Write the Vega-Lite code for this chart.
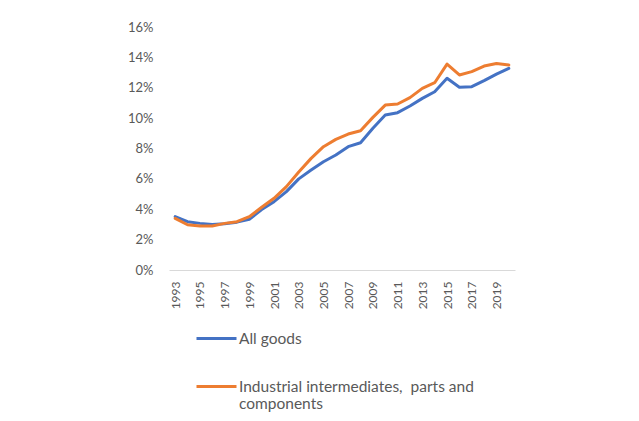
{
  "$schema": "https://vega.github.io/schema/vega-lite/v6.json",
  "autosize": {"type": "none"},
  "width": 346,
  "height": 243,
  "padding": {"left": 169, "top": 27, "right": 124, "bottom": 151},
  "background": "white",
  "config": {
    "view": {"stroke": null},
    "font": "Lato",
    "axis": {"labelFont": "Lato", "labelColor": "#595959", "grid": false, "ticks": false}
  },
  "data": {
    "values": [
      {"year": 1993, "series": "All goods", "value": 0.0352},
      {"year": 1994, "series": "All goods", "value": 0.0318},
      {"year": 1995, "series": "All goods", "value": 0.0307},
      {"year": 1996, "series": "All goods", "value": 0.0300},
      {"year": 1997, "series": "All goods", "value": 0.0305},
      {"year": 1998, "series": "All goods", "value": 0.0315},
      {"year": 1999, "series": "All goods", "value": 0.0334},
      {"year": 2000, "series": "All goods", "value": 0.0398},
      {"year": 2001, "series": "All goods", "value": 0.0450},
      {"year": 2002, "series": "All goods", "value": 0.0516},
      {"year": 2003, "series": "All goods", "value": 0.0600},
      {"year": 2004, "series": "All goods", "value": 0.0658},
      {"year": 2005, "series": "All goods", "value": 0.0713},
      {"year": 2006, "series": "All goods", "value": 0.0757},
      {"year": 2007, "series": "All goods", "value": 0.0812},
      {"year": 2008, "series": "All goods", "value": 0.0838},
      {"year": 2009, "series": "All goods", "value": 0.0933},
      {"year": 2010, "series": "All goods", "value": 0.1020},
      {"year": 2011, "series": "All goods", "value": 0.1036},
      {"year": 2012, "series": "All goods", "value": 0.1080},
      {"year": 2013, "series": "All goods", "value": 0.1130},
      {"year": 2014, "series": "All goods", "value": 0.1174},
      {"year": 2015, "series": "All goods", "value": 0.1262},
      {"year": 2016, "series": "All goods", "value": 0.1203},
      {"year": 2017, "series": "All goods", "value": 0.1207},
      {"year": 2018, "series": "All goods", "value": 0.1247},
      {"year": 2019, "series": "All goods", "value": 0.1290},
      {"year": 2020, "series": "All goods", "value": 0.1328},
      {"year": 1993, "series": "Industrial intermediates,  parts and components", "value": 0.0340},
      {"year": 1994, "series": "Industrial intermediates,  parts and components", "value": 0.0298},
      {"year": 1995, "series": "Industrial intermediates,  parts and components", "value": 0.0290},
      {"year": 1996, "series": "Industrial intermediates,  parts and components", "value": 0.0290},
      {"year": 1997, "series": "Industrial intermediates,  parts and components", "value": 0.0307},
      {"year": 1998, "series": "Industrial intermediates,  parts and components", "value": 0.0318},
      {"year": 1999, "series": "Industrial intermediates,  parts and components", "value": 0.0351},
      {"year": 2000, "series": "Industrial intermediates,  parts and components", "value": 0.0413},
      {"year": 2001, "series": "Industrial intermediates,  parts and components", "value": 0.0472},
      {"year": 2002, "series": "Industrial intermediates,  parts and components", "value": 0.0549},
      {"year": 2003, "series": "Industrial intermediates,  parts and components", "value": 0.0645},
      {"year": 2004, "series": "Industrial intermediates,  parts and components", "value": 0.0735},
      {"year": 2005, "series": "Industrial intermediates,  parts and components", "value": 0.0812},
      {"year": 2006, "series": "Industrial intermediates,  parts and components", "value": 0.0860},
      {"year": 2007, "series": "Industrial intermediates,  parts and components", "value": 0.0895},
      {"year": 2008, "series": "Industrial intermediates,  parts and components", "value": 0.0917},
      {"year": 2009, "series": "Industrial intermediates,  parts and components", "value": 0.1005},
      {"year": 2010, "series": "Industrial intermediates,  parts and components", "value": 0.1086},
      {"year": 2011, "series": "Industrial intermediates,  parts and components", "value": 0.1093},
      {"year": 2012, "series": "Industrial intermediates,  parts and components", "value": 0.1135},
      {"year": 2013, "series": "Industrial intermediates,  parts and components", "value": 0.1196},
      {"year": 2014, "series": "Industrial intermediates,  parts and components", "value": 0.1233},
      {"year": 2015, "series": "Industrial intermediates,  parts and components", "value": 0.1356},
      {"year": 2016, "series": "Industrial intermediates,  parts and components", "value": 0.1284},
      {"year": 2017, "series": "Industrial intermediates,  parts and components", "value": 0.1306},
      {"year": 2018, "series": "Industrial intermediates,  parts and components", "value": 0.1343},
      {"year": 2019, "series": "Industrial intermediates,  parts and components", "value": 0.1360},
      {"year": 2020, "series": "Industrial intermediates,  parts and components", "value": 0.1350}
    ]
  },
  "mark": {"type": "line", "strokeWidth": 3, "strokeJoin": "round", "strokeCap": "round"},
  "encoding": {
    "x": {
      "field": "year",
      "type": "ordinal",
      "scale": {"type": "point", "padding": 0.5},
      "axis": {
        "title": null,
        "values": [1993, 1995, 1997, 1999, 2001, 2003, 2005, 2007, 2009, 2011, 2013, 2015, 2017, 2019],
        "labelAngle": -90,
        "labelAlign": "right",
        "labelBaseline": "middle",
        "labelPadding": 11,
        "labelFontSize": 12,
        "domainColor": "#d9d9d9",
        "domainWidth": 1
      }
    },
    "y": {
      "field": "value",
      "type": "quantitative",
      "scale": {"domain": [0, 0.16], "nice": false},
      "axis": {
        "title": null,
        "format": ".0%",
        "values": [0, 0.02, 0.04, 0.06, 0.08, 0.1, 0.12, 0.14, 0.16],
        "domain": false,
        "labelPadding": 16,
        "labelFontSize": 13
      }
    },
    "color": {
      "field": "series",
      "type": "nominal",
      "scale": {"domain": ["All goods", "Industrial intermediates,  parts and components"], "range": ["#4472c4", "#ed7d31"]},
      "legend": {
        "title": null,
        "orient": "none",
        "legendX": 26,
        "legendY": 290,
        "direction": "vertical",
        "symbolType": "stroke",
        "symbolSize": 1600,
        "symbolStrokeWidth": 3,
        "labelFont": "Lato",
        "labelFontSize": 15.5,
        "labelColor": "#595959",
        "labelOffset": 1,
        "labelLimit": 400,
        "rowPadding": 18,
        "labelExpr": "datum.label == 'All goods' ? datum.label : ['Industrial intermediates,\u00a0 parts and', 'components']"
      }
    }
  }
}
